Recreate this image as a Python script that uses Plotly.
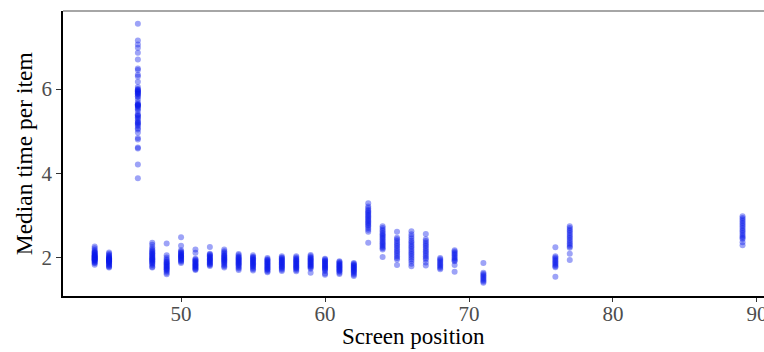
import plotly.graph_objects as go

# Screen positions (x) and median time per item values (y)
positions = [44, 45, 47, 48, 49, 50, 51, 52, 53, 54, 55, 56, 57, 58, 59, 60,
             61, 62, 63, 64, 65, 66, 67, 68, 69, 71, 76, 77, 89]

pos44 = [2.26, 2.22, 2.18, 2.15, 2.13, 2.11, 2.10, 2.08, 2.06, 2.05, 2.04, 2.03, 2.02, 2.01,
         2.00, 1.99, 1.98, 1.97, 1.96, 1.95, 1.94, 1.93, 1.92, 1.90, 1.88, 1.86, 1.83]
pos45 = [2.12, 2.09, 2.06, 2.04, 2.02, 2.00, 1.99, 1.98, 1.97, 1.96, 1.95, 1.94, 1.93, 1.92,
         1.91, 1.90, 1.89, 1.88, 1.86, 1.84, 1.82, 1.80, 1.78, 1.76]
pos47 = [7.55, 7.15, 7.06, 6.98, 6.86, 6.70, 6.49, 6.45, 6.34, 6.30, 6.17, 6.05, 6.00, 5.98,
         5.97, 5.95, 5.94, 5.92, 5.90, 5.88, 5.87, 5.83, 5.81, 5.75, 5.68, 5.64, 5.63, 5.62,
         5.61, 5.60, 5.58, 5.55, 5.52, 5.48, 5.40, 5.38, 5.36, 5.33, 5.30, 5.26, 5.22, 5.20,
         5.18, 5.15, 5.12, 5.07, 5.04, 4.97, 4.84, 4.80, 4.61, 4.59, 4.21, 3.88]
pos48 = [2.35, 2.30, 2.24, 2.20, 2.17, 2.15, 2.12, 2.10, 2.08, 2.06, 2.04, 2.02, 2.00, 1.98,
         1.96, 1.95, 1.93, 1.91, 1.89, 1.87, 1.85, 1.82, 1.78, 1.76]
pos49 = [2.33, 2.05, 2.00, 1.96, 1.93, 1.90, 1.88, 1.86, 1.84, 1.82, 1.80, 1.78, 1.76, 1.74,
         1.72, 1.70, 1.67, 1.64, 1.60]
pos50 = [2.48, 2.28, 2.17, 2.14, 2.12, 2.10, 2.08, 2.06, 2.04, 2.03, 2.02, 2.00, 1.98, 1.96,
         1.94, 1.92, 1.90, 1.87]
pos51 = [2.19, 2.11, 1.97, 1.95, 1.93, 1.91, 1.89, 1.87, 1.85, 1.83, 1.82, 1.80, 1.78, 1.76,
         1.74, 1.72, 1.70]
pos52 = [2.25, 2.09, 2.07, 2.05, 2.03, 2.01, 1.99, 1.97, 1.95, 1.94, 1.92, 1.90, 1.88, 1.86,
         1.84, 1.82, 1.80]
pos53 = [2.19, 2.15, 2.12, 2.09, 2.06, 2.04, 2.02, 2.00, 1.98, 1.96, 1.94, 1.92, 1.90, 1.88,
         1.85, 1.82, 1.79, 1.76]
pos54 = [2.08, 2.05, 2.02, 2.00, 1.98, 1.96, 1.94, 1.92, 1.90, 1.88, 1.86, 1.84, 1.82, 1.80,
         1.77, 1.74, 1.70]
pos55 = [2.05, 2.02, 2.00, 1.98, 1.96, 1.94, 1.92, 1.90, 1.88, 1.86, 1.84, 1.82, 1.80, 1.78,
         1.75, 1.72, 1.69]
pos56 = [1.99, 1.96, 1.94, 1.92, 1.90, 1.88, 1.86, 1.84, 1.82, 1.80, 1.78, 1.76, 1.74, 1.72,
         1.70, 1.67, 1.65]
pos57 = [2.03, 2.00, 1.98, 1.96, 1.94, 1.92, 1.90, 1.88, 1.86, 1.84, 1.82, 1.80, 1.78, 1.76,
         1.74, 1.71, 1.68]
pos58 = [2.03, 2.00, 1.97, 1.95, 1.93, 1.91, 1.89, 1.87, 1.85, 1.83, 1.81, 1.79, 1.77, 1.75,
         1.73, 1.70, 1.67]
pos59 = [2.06, 2.03, 2.00, 1.98, 1.96, 1.94, 1.92, 1.90, 1.88, 1.86, 1.84, 1.82, 1.80, 1.78,
         1.76, 1.73, 1.64]
pos60 = [1.97, 1.95, 1.93, 1.91, 1.89, 1.87, 1.85, 1.83, 1.81, 1.79, 1.77, 1.75, 1.73, 1.71,
         1.68, 1.62, 1.59]
pos61 = [1.91, 1.89, 1.87, 1.85, 1.83, 1.81, 1.79, 1.77, 1.75, 1.73, 1.71, 1.69, 1.67, 1.64,
         1.61]
pos62 = [1.87, 1.85, 1.83, 1.81, 1.79, 1.77, 1.75, 1.73, 1.71, 1.69, 1.67, 1.65, 1.62, 1.59,
         1.56]
pos63 = [3.29, 3.21, 3.17, 3.13, 3.10, 3.07, 3.04, 3.01, 2.98, 2.95, 2.92, 2.89, 2.86, 2.83,
         2.80, 2.77, 2.74, 2.70, 2.66, 2.61, 2.35]
pos64 = [2.74, 2.70, 2.66, 2.62, 2.58, 2.55, 2.52, 2.49, 2.46, 2.43, 2.40, 2.37, 2.34, 2.31,
         2.28, 2.25, 2.22, 2.19, 2.01]
pos65 = [2.61, 2.47, 2.43, 2.39, 2.35, 2.31, 2.27, 2.23, 2.19, 2.15, 2.11, 2.07, 2.03, 1.99,
         1.95, 1.82]
pos66 = [2.62, 2.55, 2.50, 2.45, 2.40, 2.36, 2.32, 2.28, 2.24, 2.20, 2.16, 2.12, 2.08, 2.04,
         2.00, 1.96, 1.91, 1.85, 1.79]
pos67 = [2.56, 2.43, 2.39, 2.35, 2.31, 2.27, 2.23, 2.19, 2.15, 2.11, 2.07, 2.03, 1.99, 1.95,
         1.88, 1.81]
pos68 = [1.99, 1.96, 1.93, 1.90, 1.87, 1.84, 1.81, 1.78, 1.75, 1.72]
pos69 = [2.17, 2.14, 2.11, 2.08, 2.05, 2.02, 1.99, 1.96, 1.93, 1.91, 1.82, 1.66]
pos71 = [1.87, 1.64, 1.61, 1.58, 1.55, 1.52, 1.49, 1.46, 1.43, 1.40]
pos76 = [2.24, 2.03, 2.00, 1.97, 1.94, 1.91, 1.88, 1.85, 1.82, 1.79, 1.77, 1.54]
pos77 = [2.74, 2.70, 2.66, 2.62, 2.58, 2.54, 2.50, 2.46, 2.42, 2.38, 2.34, 2.30, 2.26, 2.23,
         2.09, 1.94]
pos89 = [2.98, 2.94, 2.90, 2.86, 2.82, 2.78, 2.74, 2.70, 2.66, 2.62, 2.58, 2.54, 2.50, 2.47,
         2.44, 2.36, 2.29]

values = [pos44, pos45, pos47, pos48, pos49, pos50, pos51, pos52, pos53, pos54, pos55,
          pos56, pos57, pos58, pos59, pos60, pos61, pos62, pos63, pos64, pos65, pos66,
          pos67, pos68, pos69, pos71, pos76, pos77, pos89]

x_ticks = [50, 60, 70, 80, 90]
y_ticks = [2, 4, 6]

xs, ys = [], []
for p, vals in zip(positions, values):
    for v in vals:
        xs.append(p)
        ys.append(v)

fig = go.Figure()
fig.add_trace(go.Scatter(
    x=xs, y=ys, mode="markers",
    marker=dict(color="rgba(10,25,235,0.4)", size=6, line=dict(width=0)),
    showlegend=False, hoverinfo="skip", cliponaxis=False,
))

serif = "Liberation Serif, Times New Roman, serif"
fig.update_layout(
    width=764, height=352,
    margin=dict(l=63, r=0, t=11, b=56),
    paper_bgcolor="white", plot_bgcolor="white",
    font=dict(family=serif),
    xaxis=dict(
        range=[41.8, 90.49], tickvals=x_ticks, ticktext=[str(t) for t in x_ticks],
        showgrid=False, zeroline=False, showline=True, linecolor="black", linewidth=1.5,
        ticks="outside", ticklen=4, tickwidth=1.2, tickcolor="#333333",
        tickfont=dict(family=serif, size=21, color="#4d4d4d"),
        ticklabeloverflow="allow", ticklabelstandoff=-6,
        automargin=False,
    ),
    yaxis=dict(
        range=[1.085, 7.853], tickvals=y_ticks, ticktext=[str(t) for t in y_ticks],
        showgrid=False, zeroline=False, showline=True, linecolor="black", linewidth=1.5,
        ticks="outside", ticklen=5, tickwidth=1.2, tickcolor="#333333",
        tickfont=dict(family=serif, size=21, color="#4d4d4d"),
        automargin=False,
    ),
    shapes=[dict(type="line", xref="paper", yref="paper", x0=0, x1=1, y0=1, y1=1,
                 line=dict(color="#888888", width=1.5))],
    annotations=[
        dict(text="Screen position", xref="paper", yref="paper", x=0.5, y=-0.143,
             xanchor="center", yanchor="middle", showarrow=False,
             font=dict(family=serif, size=23, color="black")),
        dict(text="Median time per item", xref="paper", yref="paper", x=-0.056, y=0.5,
             xanchor="center", yanchor="middle", showarrow=False, textangle=-90,
             font=dict(family=serif, size=23.5, color="black")),
    ],
)

fig.write_html(
    "out.html",
    config={"displayModeBar": False},
    post_script="document.body.style.margin='0';document.body.style.overflow='hidden';",
)
